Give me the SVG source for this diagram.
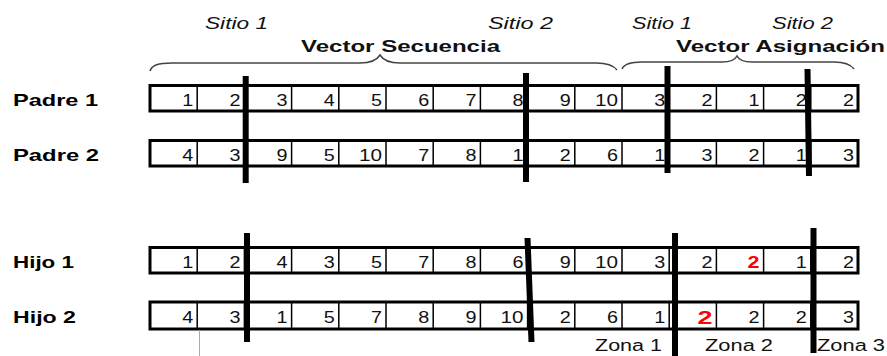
<svg xmlns="http://www.w3.org/2000/svg" width="887" height="356" viewBox="0 0 887 356">
<style>
.lbl{font-family:"Liberation Sans",Arial,sans-serif;font-weight:bold;font-size:17px;fill:#000}
.ttl{font-family:"Liberation Sans",Arial,sans-serif;font-weight:bold;font-size:16px;fill:#111}
.sit{font-family:"Liberation Sans",Arial,sans-serif;font-style:italic;font-size:17px;fill:#111}
.num{font-family:"Liberation Sans",Arial,sans-serif;font-size:16px;fill:#111;text-anchor:end}
.red{fill:#f00;font-weight:bold}
.zona{font-family:"Liberation Sans",Arial,sans-serif;font-size:16px;fill:#111}
.box{fill:#fff;stroke:#000;stroke-width:3}
.div{stroke:#000;stroke-width:1.5}
.cut{stroke:#000;stroke-width:6;fill:none}
.brace{fill:none;stroke:#444;stroke-width:1.5}
</style>
<defs>
<g id="dividers">
<path class="div" d="M197.2,0V1M244.4,0V1M291.6,0V1M338.8,0V1M386,0V1M433.2,0V1M480.4,0V1M527.6,0V1M574.8,0V1M622,0V1M669.2,0V1M716.4,0V1M763.6,0V1M810.8,0V1"/>
</g>
</defs>

<g id="headers">
<text class="sit" x="205" y="29" textLength="63" lengthAdjust="spacingAndGlyphs">Sitio 1</text>
<text class="sit" x="488" y="29" textLength="65" lengthAdjust="spacingAndGlyphs">Sitio 2</text>
<text class="sit" x="632" y="29" textLength="60" lengthAdjust="spacingAndGlyphs">Sitio 1</text>
<text class="sit" x="772" y="29" textLength="61" lengthAdjust="spacingAndGlyphs">Sitio 2</text>
<text class="ttl" x="301" y="52" textLength="199" lengthAdjust="spacingAndGlyphs">Vector Secuencia</text>
<text class="ttl" x="676" y="52" textLength="209" lengthAdjust="spacingAndGlyphs">Vector Asignación</text>
<path class="brace" d="M150,71 C152,65 158,63 172,63 L360,63 C372,63 377,60 380,55 C383,60 388,63 400,63 L596,63 C608,63 614,66 617,70"/>
<path class="brace" d="M622,69 C624,64 630,62 642,62 L722,62 C731,62 735,60 737,56 C739,60 743,62 752,62 L834,62 C845,62 851,65 854,69"/>
</g>

<g id="padre1">
<text class="lbl" x="13" y="106" textLength="85" lengthAdjust="spacingAndGlyphs">Padre 1</text>
<rect class="box" x="150" y="85.5" width="708" height="25.5"/>
<path class="div" d="M197.2,85.5V111M244.4,85.5V111M291.6,85.5V111M338.8,85.5V111M386,85.5V111M433.2,85.5V111M480.4,85.5V111M527.6,85.5V111M574.8,85.5V111M622,85.5V111M669.2,85.5V111M716.4,85.5V111M763.6,85.5V111M810.8,85.5V111"/>
<g class="num">
<text x="193.2" y="106" textLength="11" lengthAdjust="spacingAndGlyphs">1</text>
<text x="240.4" y="106" textLength="11" lengthAdjust="spacingAndGlyphs">2</text>
<text x="287.6" y="106" textLength="11" lengthAdjust="spacingAndGlyphs">3</text>
<text x="334.8" y="106" textLength="11" lengthAdjust="spacingAndGlyphs">4</text>
<text x="382" y="106" textLength="11" lengthAdjust="spacingAndGlyphs">5</text>
<text x="429.2" y="106" textLength="11" lengthAdjust="spacingAndGlyphs">6</text>
<text x="476.4" y="106" textLength="11" lengthAdjust="spacingAndGlyphs">7</text>
<text x="523.6" y="106" textLength="11" lengthAdjust="spacingAndGlyphs">8</text>
<text x="570.8" y="106" textLength="11" lengthAdjust="spacingAndGlyphs">9</text>
<text x="618" y="106" textLength="23" lengthAdjust="spacingAndGlyphs">10</text>
<text x="665.2" y="106" textLength="11" lengthAdjust="spacingAndGlyphs">3</text>
<text x="712.4" y="106" textLength="11" lengthAdjust="spacingAndGlyphs">2</text>
<text x="759.6" y="106" textLength="11" lengthAdjust="spacingAndGlyphs">1</text>
<text x="806.8" y="106" textLength="11" lengthAdjust="spacingAndGlyphs">2</text>
<text x="854" y="106" textLength="11" lengthAdjust="spacingAndGlyphs">2</text>
</g>
</g>

<g id="padre2">
<text class="lbl" x="13" y="161" textLength="86" lengthAdjust="spacingAndGlyphs">Padre 2</text>
<rect class="box" x="150" y="140.5" width="708" height="25.5"/>
<path class="div" d="M197.2,140.5V166M244.4,140.5V166M291.6,140.5V166M338.8,140.5V166M386,140.5V166M433.2,140.5V166M480.4,140.5V166M527.6,140.5V166M574.8,140.5V166M622,140.5V166M669.2,140.5V166M716.4,140.5V166M763.6,140.5V166M810.8,140.5V166"/>
<g class="num">
<text x="193.2" y="161" textLength="11" lengthAdjust="spacingAndGlyphs">4</text>
<text x="240.4" y="161" textLength="11" lengthAdjust="spacingAndGlyphs">3</text>
<text x="287.6" y="161" textLength="11" lengthAdjust="spacingAndGlyphs">9</text>
<text x="334.8" y="161" textLength="11" lengthAdjust="spacingAndGlyphs">5</text>
<text x="382" y="161" textLength="23" lengthAdjust="spacingAndGlyphs">10</text>
<text x="429.2" y="161" textLength="11" lengthAdjust="spacingAndGlyphs">7</text>
<text x="476.4" y="161" textLength="11" lengthAdjust="spacingAndGlyphs">8</text>
<text x="523.6" y="161" textLength="11" lengthAdjust="spacingAndGlyphs">1</text>
<text x="570.8" y="161" textLength="11" lengthAdjust="spacingAndGlyphs">2</text>
<text x="618" y="161" textLength="11" lengthAdjust="spacingAndGlyphs">6</text>
<text x="665.2" y="161" textLength="11" lengthAdjust="spacingAndGlyphs">1</text>
<text x="712.4" y="161" textLength="11" lengthAdjust="spacingAndGlyphs">3</text>
<text x="759.6" y="161" textLength="11" lengthAdjust="spacingAndGlyphs">2</text>
<text x="806.8" y="161" textLength="11" lengthAdjust="spacingAndGlyphs">1</text>
<text x="854" y="161" textLength="11" lengthAdjust="spacingAndGlyphs">3</text>
</g>
</g>

<g id="hijo1">
<text class="lbl" x="13" y="267.5" textLength="61" lengthAdjust="spacingAndGlyphs">Hijo 1</text>
<rect class="box" x="150" y="247.5" width="708" height="25.5"/>
<path class="div" d="M197.2,247.5V273M244.4,247.5V273M291.6,247.5V273M338.8,247.5V273M386,247.5V273M433.2,247.5V273M480.4,247.5V273M527.6,247.5V273M574.8,247.5V273M622,247.5V273M669.2,247.5V273M716.4,247.5V273M763.6,247.5V273M810.8,247.5V273"/>
<g class="num">
<text x="193.2" y="267.5" textLength="11" lengthAdjust="spacingAndGlyphs">1</text>
<text x="240.4" y="267.5" textLength="11" lengthAdjust="spacingAndGlyphs">2</text>
<text x="287.6" y="267.5" textLength="11" lengthAdjust="spacingAndGlyphs">4</text>
<text x="334.8" y="267.5" textLength="11" lengthAdjust="spacingAndGlyphs">3</text>
<text x="382" y="267.5" textLength="11" lengthAdjust="spacingAndGlyphs">5</text>
<text x="429.2" y="267.5" textLength="11" lengthAdjust="spacingAndGlyphs">7</text>
<text x="476.4" y="267.5" textLength="11" lengthAdjust="spacingAndGlyphs">8</text>
<text x="523.6" y="267.5" textLength="11" lengthAdjust="spacingAndGlyphs">6</text>
<text x="570.8" y="267.5" textLength="11" lengthAdjust="spacingAndGlyphs">9</text>
<text x="618" y="267.5" textLength="23" lengthAdjust="spacingAndGlyphs">10</text>
<text x="665.2" y="267.5" textLength="11" lengthAdjust="spacingAndGlyphs">3</text>
<text x="712.4" y="267.5" textLength="11" lengthAdjust="spacingAndGlyphs">2</text>
<text class="red" x="759.6" y="267.5" textLength="12" lengthAdjust="spacingAndGlyphs">2</text>
<text x="806.8" y="267.5" textLength="11" lengthAdjust="spacingAndGlyphs">1</text>
<text x="854" y="267.5" textLength="11" lengthAdjust="spacingAndGlyphs">2</text>
</g>
</g>

<g id="hijo2">
<text class="lbl" x="13" y="323" textLength="63" lengthAdjust="spacingAndGlyphs">Hijo 2</text>
<rect class="box" x="150" y="302" width="708" height="27"/>
<path class="div" d="M197.2,302V329M244.4,302V329M291.6,302V329M338.8,302V329M386,302V329M433.2,302V329M480.4,302V329M527.6,302V329M574.8,302V329M622,302V329M669.2,302V329M716.4,302V329M763.6,302V329M810.8,302V329"/>
<g class="num">
<text x="193.2" y="323" textLength="11" lengthAdjust="spacingAndGlyphs">4</text>
<text x="240.4" y="323" textLength="11" lengthAdjust="spacingAndGlyphs">3</text>
<text x="287.6" y="323" textLength="11" lengthAdjust="spacingAndGlyphs">1</text>
<text x="334.8" y="323" textLength="11" lengthAdjust="spacingAndGlyphs">5</text>
<text x="382" y="323" textLength="11" lengthAdjust="spacingAndGlyphs">7</text>
<text x="429.2" y="323" textLength="11" lengthAdjust="spacingAndGlyphs">8</text>
<text x="476.4" y="323" textLength="11" lengthAdjust="spacingAndGlyphs">9</text>
<text x="523.6" y="323" textLength="23" lengthAdjust="spacingAndGlyphs">10</text>
<text x="570.8" y="323" textLength="11" lengthAdjust="spacingAndGlyphs">2</text>
<text x="618" y="323" textLength="11" lengthAdjust="spacingAndGlyphs">6</text>
<text x="665.2" y="323" textLength="11" lengthAdjust="spacingAndGlyphs">1</text>
<text class="red" x="712.4" y="323.5" style="font-size:18px" textLength="15" lengthAdjust="spacingAndGlyphs">2</text>
<text x="759.6" y="323" textLength="11" lengthAdjust="spacingAndGlyphs">2</text>
<text x="806.8" y="323" textLength="11" lengthAdjust="spacingAndGlyphs">2</text>
<text x="854" y="323" textLength="11" lengthAdjust="spacingAndGlyphs">3</text>
</g>
</g>

<g id="zonas">
<text class="zona" x="595" y="351" textLength="67" lengthAdjust="spacingAndGlyphs">Zona 1</text>
<text class="zona" x="705" y="351" textLength="68" lengthAdjust="spacingAndGlyphs">Zona 2</text>
<text class="zona" x="817" y="351" textLength="68" lengthAdjust="spacingAndGlyphs">Zona 3</text>
<line x1="199.5" y1="330" x2="199.5" y2="356" stroke="#aaa" stroke-width="1"/>
</g>

<g id="connectors">
<line class="cut" x1="245.7" y1="76" x2="245.7" y2="183"/>
<line class="cut" x1="526" y1="73" x2="526" y2="182"/>
<line class="cut" x1="667.5" y1="66" x2="667.5" y2="173"/>
<line class="cut" x1="807.5" y1="69" x2="809" y2="176"/>
<line class="cut" x1="247" y1="233" x2="247" y2="342"/>
<line class="cut" x1="527.5" y1="238" x2="531.5" y2="342"/>
<line class="cut" x1="675" y1="233" x2="675" y2="356"/>
<line class="cut" x1="813.5" y1="228" x2="813.5" y2="353"/>
</g>
</svg>
